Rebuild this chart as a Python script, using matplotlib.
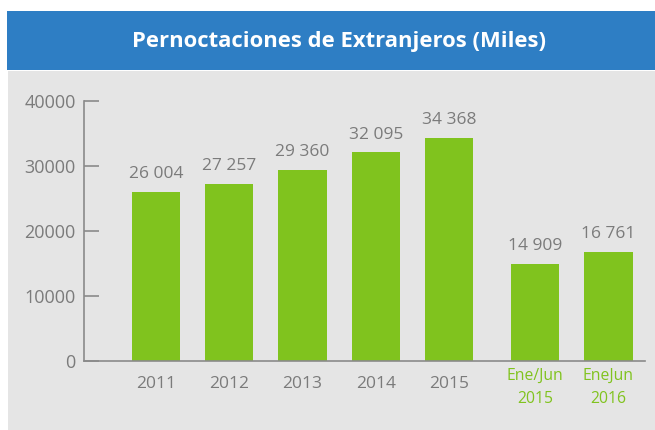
import numpy as np
import matplotlib
matplotlib.use("Agg")
import matplotlib.pyplot as plt
from matplotlib.patches import Rectangle
from matplotlib.transforms import ScaledTranslation

categories = ["2011", "2012", "2013", "2014", "2015", "Ene/Jun\n2015", "EneJun\n2016"]
values = [26004, 27257, 29360, 32095, 34368, 14909, 16761]
value_labels = ["26 004", "27 257", "29 360", "32 095", "34 368", "14 909", "16 761"]
yticks = [0, 10000, 20000, 30000, 40000]

green = "#80c31e"
blue = "#2e7ec4"
bg = "#e5e5e5"
grey_txt = "#7b7b7b"
axis_col = "#8a8a8a"

plt.rcParams["font.family"] = ["Open Sans", "DejaVu Sans"]

W, H = 655, 430
fig = plt.figure(figsize=(W / 100, H / 100), dpi=100)
fig.patch.set_facecolor("white")

# fondo gris y banda azul del título
fig.patches.append(Rectangle((8 / W, 0), 1, (H - 71) / H, transform=fig.transFigure,
                             facecolor=bg, edgecolor="none", zorder=-10))
fig.patches.append(Rectangle((7 / W, (H - 70) / H), 1, 59 / H, transform=fig.transFigure,
                             facecolor=blue, edgecolor="none", zorder=-10))
fig.text(339 / W, (H - 41) / H, "Pernoctaciones de Extranjeros (Miles)",
         color="white", fontsize=15.8, fontweight="bold", ha="center", va="center")

ax = fig.add_axes([84 / W, (H - 361) / H, (645 - 84) / W, 260 / H])
ax.set_facecolor("none")

# posiciones: hueco extra antes del grupo semestral
x = np.arange(len(categories), dtype=float)
x[5:] += 0.17
ax.bar(x, values, width=0.66, color=green, zorder=2)

for xi, v, lab in zip(x, values, value_labels):
    ax.annotate(lab, (xi, v), xytext=(0, 7), textcoords="offset points",
                ha="center", va="bottom", color=grey_txt, fontsize=12.5)

ax.set_xlim(-0.98, 6.67)
ax.set_ylim(0, 40000)
ax.set_yticks(yticks)
ax.set_yticklabels([str(t) for t in yticks])
ax.set_xticks(x)
ax.set_xticklabels(categories)

for s in ["top", "right"]:
    ax.spines[s].set_visible(False)
for s in ["left", "bottom"]:
    ax.spines[s].set_color(axis_col)
    ax.spines[s].set_linewidth(1.2)

ax.tick_params(axis="y", direction="in", length=11, width=1.2, color=axis_col,
               labelcolor=grey_txt, labelsize=13, pad=6)
ax.tick_params(axis="x", length=0, labelcolor=grey_txt, labelsize=12.5, pad=11)

# etiquetas semestrales en verde, un poco más arriba
shift = ScaledTranslation(0, 6 / 72, fig.dpi_scale_trans)
for lab in ax.get_xticklabels()[5:]:
    lab.set_color(green)
    lab.set_fontsize(11.3)
    lab.set_linespacing(1.55)
    lab.set_transform(lab.get_transform() + shift)

fig.savefig("out.png", dpi=100)
